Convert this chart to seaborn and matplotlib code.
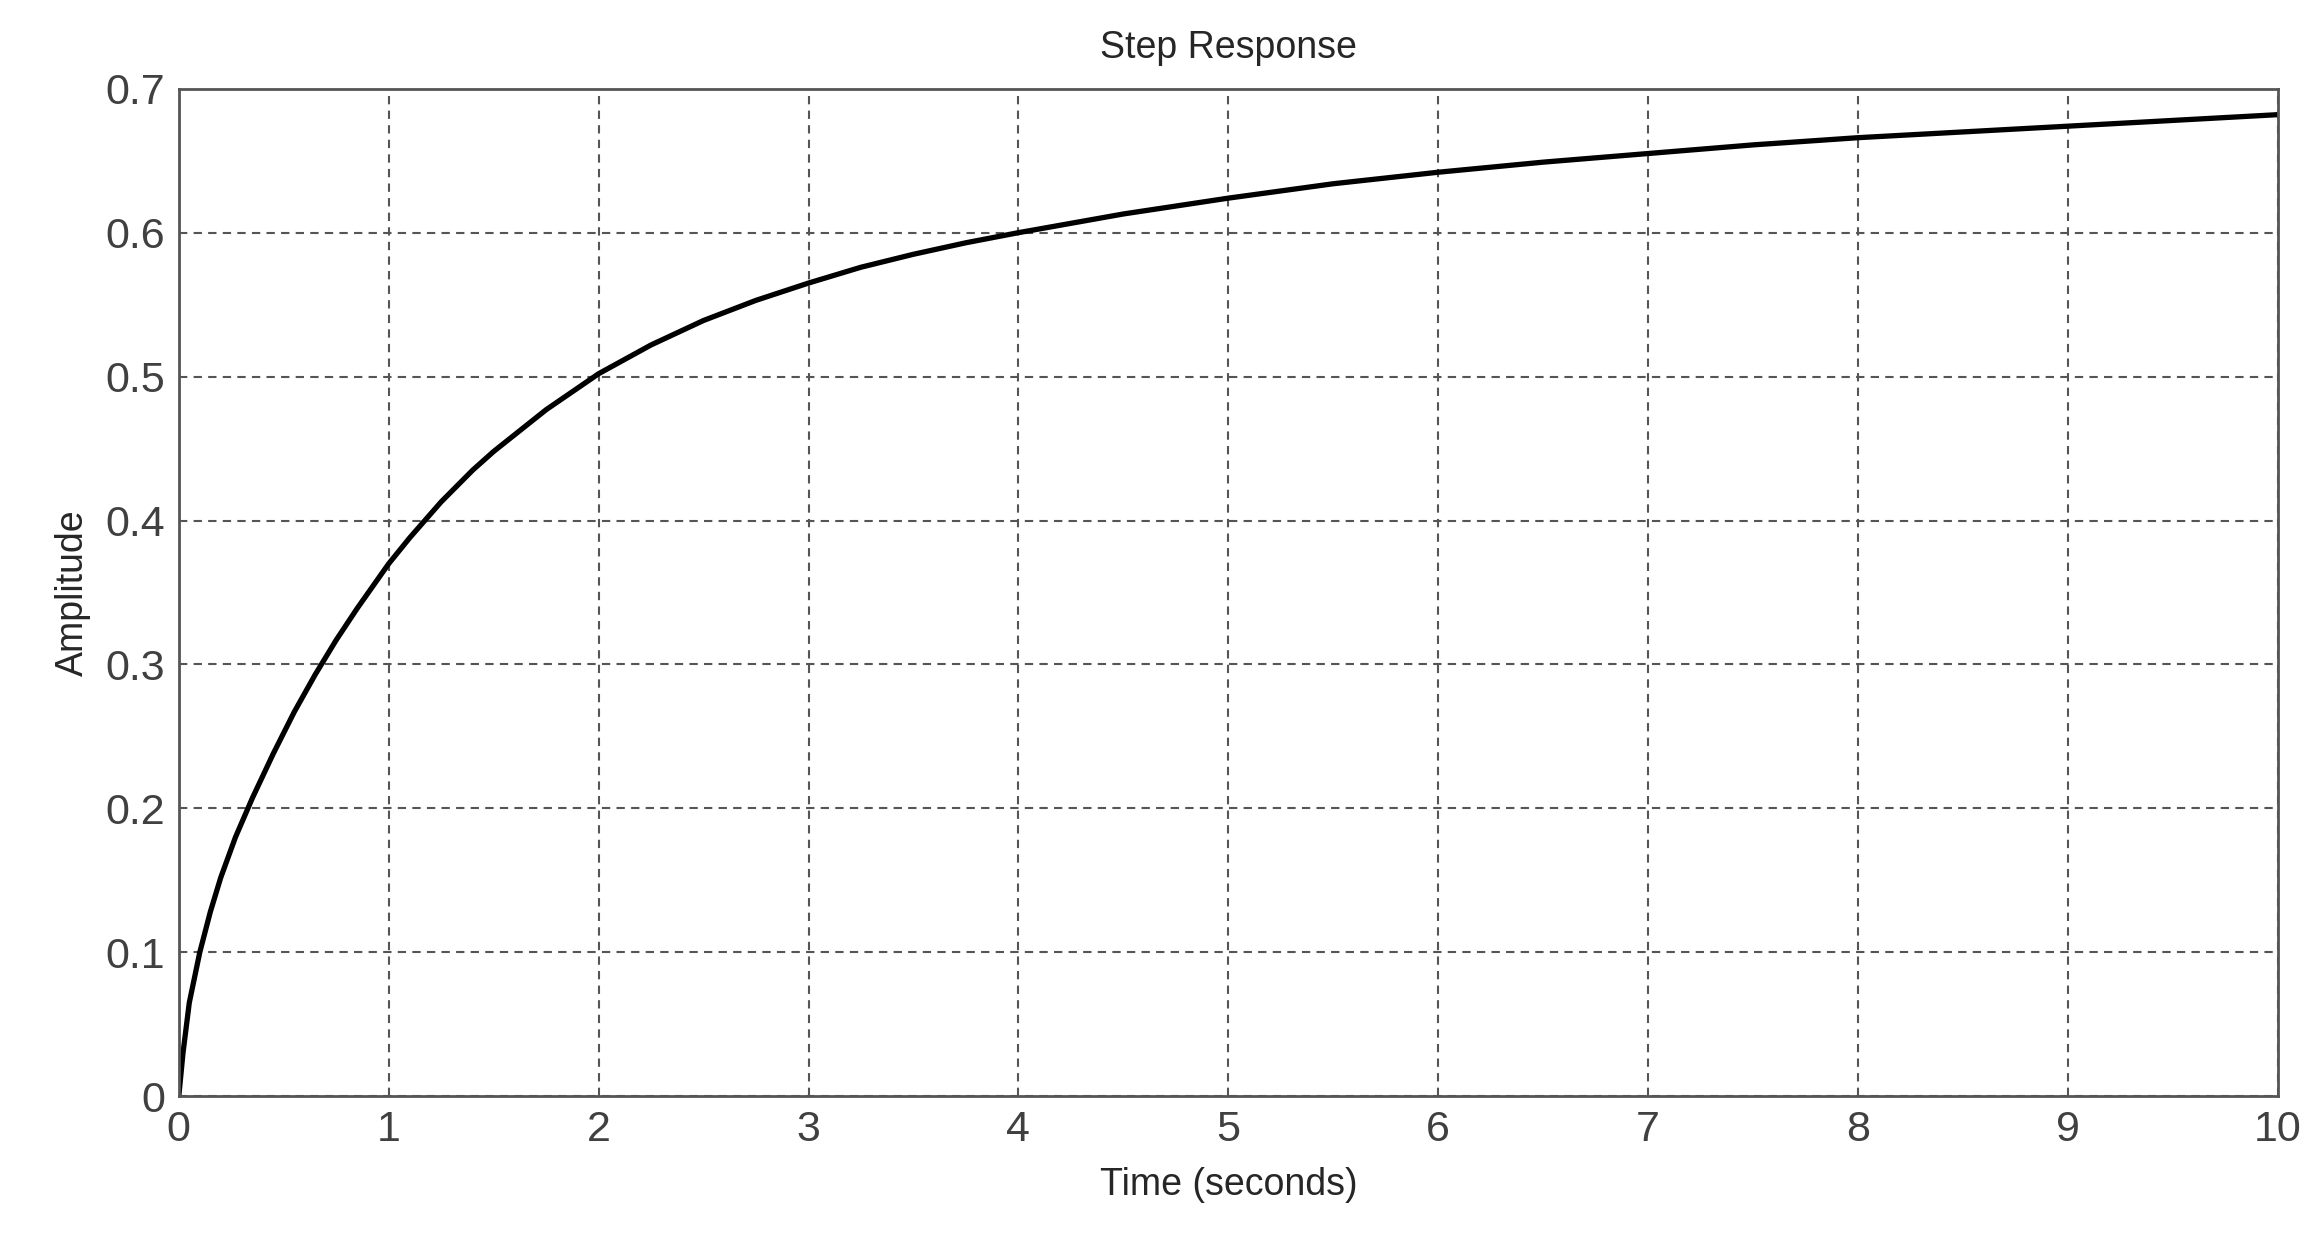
import numpy as np
import pandas as pd
import seaborn as sns
import matplotlib.pyplot as plt

# values
time_s = [0, 0.02, 0.05, 0.1, 0.15, 0.2, 0.27, 0.35, 0.45, 0.55, 0.65, 0.75, 0.85, 1.0, 1.1,
          1.25, 1.4, 1.5, 1.75, 2.0, 2.25, 2.5, 2.75, 3.0, 3.25, 3.5, 3.75, 4.0, 4.5, 5.0, 5.5,
          6.0, 6.5, 7.0, 7.5, 8.0, 8.5, 9.0, 9.5, 10.0]
amplitude = [0, 0.03, 0.065, 0.1, 0.128, 0.152, 0.18, 0.207, 0.238, 0.267, 0.293, 0.317, 0.339,
             0.37, 0.388, 0.413, 0.435, 0.448, 0.477, 0.502, 0.522, 0.539, 0.553, 0.565,
             0.576, 0.585, 0.593, 0.6, 0.613, 0.624, 0.634, 0.642, 0.649, 0.655, 0.661, 0.666,
             0.670, 0.674, 0.678, 0.682]
x_ticks = list(range(0, 11))
y_ticks = [0, 0.1, 0.2, 0.3, 0.4, 0.5, 0.6, 0.7]
y_labels = ["0", "0.1", "0.2", "0.3", "0.4", "0.5", "0.6", "0.7"]

sns.set_style("white")
plt.rcParams["font.family"] = ["Liberation Sans", "DejaVu Sans"]

df = pd.DataFrame({"t": time_s, "y": amplitude})
fig = plt.figure(figsize=(23.22, 12.5), dpi=100)
ax = fig.add_axes([0.077, 0.123, 0.904, 0.806])
sns.lineplot(data=df, x="t", y="y", color="black", linewidth=3.8, ax=ax)

ax.set_xlim(0, 10)
ax.set_ylim(0, 0.7)
ax.set_xticks(x_ticks)
ax.set_yticks(y_ticks)
ax.set_yticklabels(y_labels)
ax.grid(True, linestyle=(0, (4, 3)), color="#555555", linewidth=1.5)
for s in ax.spines.values():
    s.set_color("#555555")
    s.set_linewidth(2)
ax.tick_params(labelsize=31, colors="#555555", length=0, pad=10)
for lab in ax.get_xticklabels() + ax.get_yticklabels():
    lab.set_color("#404040")
ax.set_xlabel("Time (seconds)", fontsize=27, labelpad=12)
ax.set_ylabel("Amplitude", fontsize=27, labelpad=10)
ax.set_title("Step Response", fontsize=27, pad=22)

fig.savefig("out.png", dpi=100, facecolor="white")
